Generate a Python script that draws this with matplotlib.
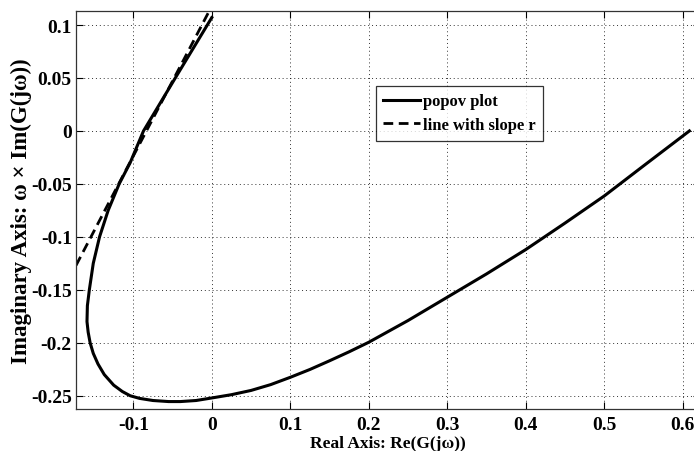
import matplotlib
matplotlib.use("Agg")
import matplotlib.pyplot as plt

# ------------------------------
# Data
# ------------------------------
popov_re = [0.0, -0.0465, -0.087, -0.104, -0.118, -0.132, -0.143, -0.151, -0.156,
            -0.1585, -0.159, -0.1575, -0.155, -0.151, -0.145, -0.137, -0.125, -0.114,
            -0.104, -0.092, -0.075, -0.055, -0.04, -0.02, 0.0, 0.025, 0.05, 0.075,
            0.1, 0.125, 0.15, 0.175, 0.2, 0.25, 0.3, 0.35, 0.4, 0.45, 0.5, 0.55, 0.6085]
popov_im = [0.107, 0.05, 0.0, -0.03, -0.05, -0.075, -0.1, -0.125, -0.15,
            -0.165, -0.18, -0.19, -0.2, -0.21, -0.22, -0.23, -0.24, -0.246,
            -0.25, -0.2525, -0.2545, -0.2555, -0.2555, -0.2545, -0.2521, -0.249, -0.245, -0.2395,
            -0.2326, -0.2252, -0.217, -0.2085, -0.1995, -0.179, -0.157, -0.135, -0.112,
            -0.087, -0.0614, -0.033, 0.0]

slope_re = [-0.173, 0.01]
slope_im = [-0.127, 0.132]

x_ticks = [-0.1, 0, 0.1, 0.2, 0.3, 0.4, 0.5, 0.6]
x_labels = ["-0.1", "0", "0.1", "0.2", "0.3", "0.4", "0.5", "0.6"]
y_ticks = [-0.25, -0.2, -0.15, -0.1, -0.05, 0, 0.05, 0.1]
y_labels = ["-0.25", "-0.2", "-0.15", "-0.1", "-0.05", "0", "0.05", "0.1"]

# ------------------------------
# Figure
# ------------------------------
plt.rcParams["font.family"] = ["Liberation Serif", "DejaVu Serif"]
plt.rcParams["font.weight"] = "bold"

fig = plt.figure(figsize=(6.94, 4.52), dpi=100)
ax = fig.add_axes([76 / 694, 1 - 410.3 / 452, 624 / 694, (410.3 - 11.5) / 452])

ax.plot(popov_re, popov_im, color="black", linewidth=2.2, label="popov plot",
        solid_joinstyle="round")
ax.plot(slope_re, slope_im, color="black", linewidth=2.0, linestyle=(0, (3.5, 2)),
        label="line with slope r")

ax.set_xlim(-0.173, 0.622)
ax.set_ylim(-0.2628, 0.1137)
ax.set_xticks(x_ticks)
ax.set_xticklabels(x_labels)
ax.set_yticks(y_ticks)
ax.set_yticklabels(y_labels)
ax.tick_params(direction="in", top=True, right=True, labelsize=14, length=5, width=0.8)
ax.tick_params(axis="x", pad=5)
ax.tick_params(axis="y", pad=3)

ax.grid(True, linestyle=(0, (1, 3)), color="black", linewidth=0.7, alpha=0.8)
for s in ax.spines.values():
    s.set_linewidth(0.9)
    s.set_color("#333333")

ax.set_xlabel("Real Axis: Re(G(j\u03c9))", fontsize=12.5, fontweight="bold", labelpad=1)
ax.set_ylabel("Imaginary Axis: \u03c9 \u00d7 Im(G(j\u03c9))", fontsize=16.5, fontweight="bold",
              labelpad=-1)

leg = ax.legend(loc="upper left", bbox_to_anchor=(376 / 694, 1 - 87 / 452),
                bbox_transform=fig.transFigure, fontsize=12, frameon=True, fancybox=False,
                handlelength=2.2, handletextpad=0.15, borderpad=0.45, labelspacing=0.45,
                borderaxespad=0)
leg.get_frame().set_edgecolor("black")
leg.get_frame().set_linewidth(0.9)
for t in leg.get_texts():
    t.set_fontweight("bold")

fig.savefig("out.png", dpi=100)
